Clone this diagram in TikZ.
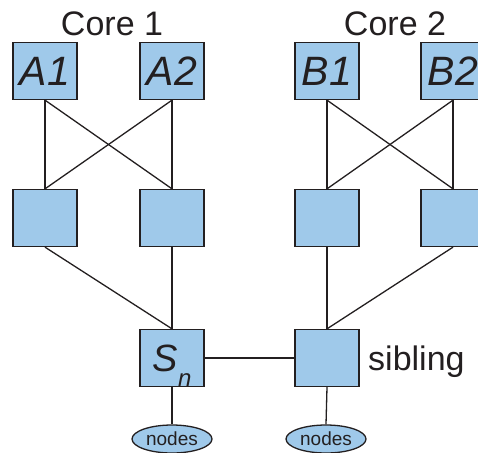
\documentclass[tikz,border=0pt]{standalone}
\usepackage{fontspec}
\setmainfont{Liberation Sans}
\usetikzlibrary{shapes.geometric}
\definecolor{boxblue}{RGB}{159,201,234}
\definecolor{ink}{RGB}{35,31,32}
\tikzset{
  cpu/.style={rectangle, draw=ink, fill=boxblue, line width=1.3pt,
              minimum width=64pt, minimum height=57pt, inner sep=0pt,
              font=\fontsize{41}{41}\selectfont\itshape, text=ink},
  cache/.style={cpu},
  grp/.style={ellipse, draw=ink, fill=boxblue, line width=1.3pt,
              minimum width=80pt, minimum height=28pt, inner sep=0pt,
              font=\fontsize{19}{19}\selectfont, text=ink},
  link/.style={line width=1.3pt, ink},
  lbl/.style={font=\fontsize{34}{34}\selectfont, text=ink, inner sep=0pt}
}

\begin{document}
\begin{tikzpicture}[x=1pt, y=-1pt]
  \useasboundingbox (0,0) rectangle (478,452);
  % Labels
  \node[lbl, anchor=base] (core1) at (112,35) {Core 1};
  \node[lbl, anchor=base] (core2) at (395,35) {Core 2};
  % Top row
  \node[cpu] (a1) at (45,71) {A1};
  \node[cpu] (a2) at (172,71) {A2};
  \node[cpu] (b1) at (327,71) {B1};
  \node[cpu] (b2) at (453,71) {B2};
  % Middle row
  \node[cache] (ca1) at (45,218) {};
  \node[cache] (ca2) at (172,218) {};
  \node[cache] (cb1) at (327,218) {};
  \node[cache] (cb2) at (453,218) {};
  % Bottom row
  \node[cache, font=\fontsize{38}{38}\selectfont\itshape] (sn) at (172,358)
    {S\smash{\raisebox{-15pt}{\fontsize{24}{24}\selectfont n}}};
  \node[cache] (sib) at (327,358) {};
  \node[lbl, anchor=base west] (siblbl) at (368,370) {sibling};
  \node[grp] (n1) at (172,439) {nodes};
  \node[grp] (n2) at (326,439) {nodes};
  % Connections
  \draw[link] (a1.south) -- (ca1.north);
  \draw[link] (a1.south) -- (ca2.north);
  \draw[link] (a2.south) -- (ca1.north);
  \draw[link] (a2.south) -- (ca2.north);
  \draw[link] (b1.south) -- (cb1.north);
  \draw[link] (b1.south) -- (cb2.north);
  \draw[link] (b2.south) -- (cb1.north);
  \draw[link] (b2.south) -- (cb2.north);
  \draw[link] (ca1.south) -- (sn.north);
  \draw[link] (ca2.south) -- (sn.north);
  \draw[link] (cb1.south) -- (sib.north);
  \draw[link] (cb2.south) -- (sib.north);
  \draw[link] (sn.east) -- (sib.west);
  \draw[link] (sn.south) -- (n1.north);
  \draw[link] (sib.south) -- (n2.north);
\end{tikzpicture}
\end{document}
